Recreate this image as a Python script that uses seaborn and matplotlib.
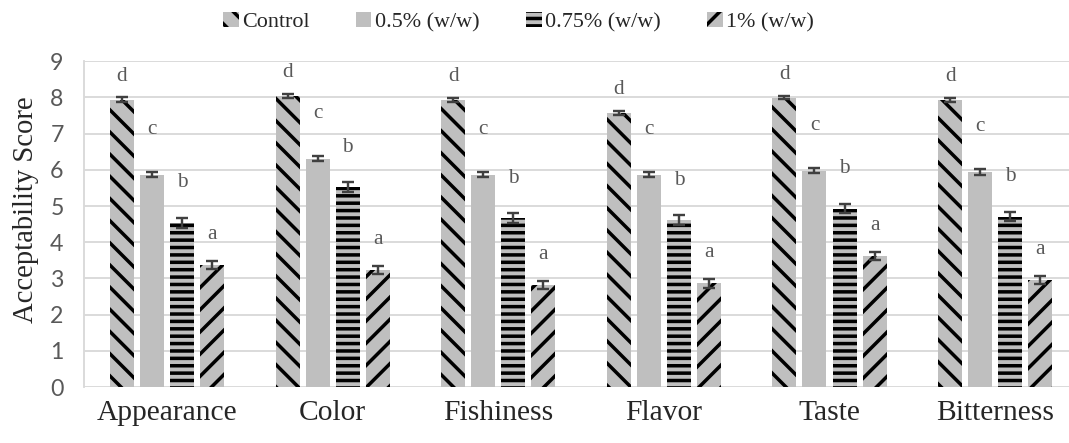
import pandas as pd
import matplotlib
matplotlib.use("Agg")
import matplotlib.pyplot as plt
from matplotlib.patches import Patch
import seaborn as sns
import numpy as np

# データ
attributes = ["Appearance", "Color", "Fishiness", "Flavor", "Taste", "Bitterness"]
treatments = ["Control", "0.5% (w/w)", "0.75% (w/w)", "1% (w/w)"]

control = [7.93, 8.04, 7.93, 7.57, 7.99, 7.93]
pct_05 = [5.86, 6.30, 5.86, 5.86, 5.97, 5.94]
pct_075 = [4.54, 5.52, 4.67, 4.61, 4.93, 4.71]
pct_1 = [3.37, 3.23, 2.82, 2.87, 3.62, 2.96]

err_control = [0.07, 0.06, 0.06, 0.05, 0.04, 0.06]
err_05 = [0.07, 0.07, 0.07, 0.07, 0.07, 0.07]
err_075 = [0.14, 0.13, 0.13, 0.13, 0.13, 0.13]
err_1 = [0.12, 0.11, 0.11, 0.12, 0.12, 0.12]

letters_control = ["d"] * 6
letters_05 = ["c"] * 6
letters_075 = ["b"] * 6
letters_1 = ["a"] * 6

means = [control, pct_05, pct_075, pct_1]
errs = [err_control, err_05, err_075, err_1]
letters = [letters_control, letters_05, letters_075, letters_1]

rows = []
for t, vals in zip(treatments, means):
    for a, v in zip(attributes, vals):
        rows.append({"attribute": a, "treatment": t, "score": v})
df = pd.DataFrame(rows)

# スタイル
hatches = ["\\\\", None, "---", "//"]
letter_offset = [0.65, 1.25, 1.1, 0.85]
bar_color = "#bfbfbf"

sns.set_style("white")
plt.rcParams["hatch.linewidth"] = 1.9
plt.rcParams["hatch.color"] = "black"
serif = ["Liberation Serif", "DejaVu Serif"]

DPI = 133
fig = plt.figure(figsize=(1069 / DPI, 443 / DPI), dpi=DPI)
ax = fig.add_axes([84 / 1069, 0.126, 1 - 84 / 1069, 0.736])

sns.barplot(data=df, x="attribute", y="score", hue="treatment",
            order=attributes, hue_order=treatments,
            palette=[bar_color] * 4, width=0.725, gap=0.2,
            errorbar=None, legend=False, ax=ax, zorder=2, linewidth=0)

bar_containers = list(ax.containers)
for i, cont in enumerate(bar_containers):
    for j, p in enumerate(cont.patches):
        if hatches[i]:
            p.set_hatch(hatches[i])
        p.set_edgecolor("black")
        p.set_linewidth(0)
        xc = p.get_x() + p.get_width() / 2
        h = p.get_height()
        ax.errorbar(xc, h, yerr=errs[i][j], color="#404040", lw=1.3,
                    capsize=3.3, capthick=1.3, zorder=3)
        ax.text(xc, h + letter_offset[i], letters[i][j], ha="center", va="center",
                fontsize=11.5, color="#595959", family=serif)

ax.set_ylim(0, 9)
ax.set_yticks(range(0, 10))
ax.set_xlim(-0.501, 5.446)
ax.yaxis.grid(True, color="#d9d9d9", lw=1.0, zorder=0)
ax.set_axisbelow(True)
for s in ["top", "right", "bottom"]:
    ax.spines[s].set_visible(False)
ax.spines["left"].set_color("#d9d9d9")
ax.spines["left"].set_linewidth(1.0)

ax.tick_params(axis="y", length=0, pad=11, labelsize=12.5, labelcolor="#595959")
for lab in ax.get_yticklabels():
    lab.set_family(["Lato", "DejaVu Sans"])
ax.tick_params(axis="x", length=0, pad=7, labelsize=16)
for lab in ax.get_xticklabels():
    lab.set_family(serif)

ax.set_xlabel("")
ax.set_ylabel("Acceptability Score", fontsize=15.5, family=serif, labelpad=6, y=0.544)

handles = [Patch(facecolor=bar_color, edgecolor="black", linewidth=0, hatch=h) for h in hatches]
leg = fig.legend(handles, treatments, loc="center", bbox_to_anchor=(0.485, 0.95), ncol=4,
                 frameon=False, prop={"family": serif, "size": 12}, handlelength=0.7,
                 handleheight=0.7, handletextpad=0.15, columnspacing=2.1)
for t in leg.get_texts():
    t.set_family(serif)

fig.savefig("out.png", dpi=DPI)
